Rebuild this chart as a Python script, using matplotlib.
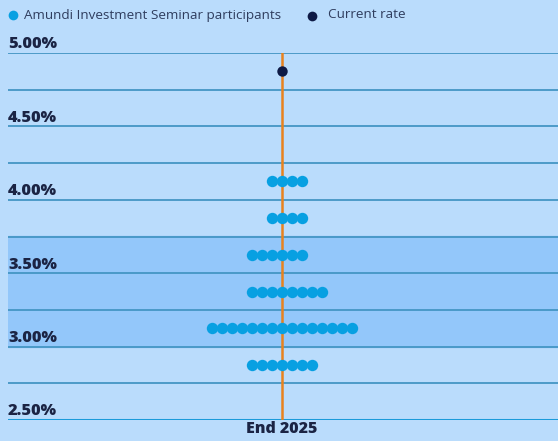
import matplotlib
matplotlib.use("Agg")
import matplotlib.pyplot as plt
import numpy as np

# ── data ──────────────────────────────────────────────────────────────────
category = "End 2025"
forecast_rates = [4.125, 3.875, 3.625, 3.375, 3.125, 2.875]   # % (bucket mid-points)
forecast_counts = [4, 4, 6, 8, 15, 7]                          # participants per bucket
current_rate = 4.875
band_low, band_high = 3.00, 3.75
y_ticks = [2.50, 3.00, 3.50, 4.00, 4.50, 5.00]
grid_levels = np.arange(2.50, 5.01, 0.25)

# left-most dot offset for each bucket row (dot-stack layout)
row_start = [-1, -1, -3, -3, -7, -3]

# ── style ─────────────────────────────────────────────────────────────────
BG = "#BADCFC"
BAND = "#93C7FA"
GRID = "#4496C4"
DOT = "#07A0E2"
NAVY = "#0E1A45"
ORANGE = "#E8821E"
TEXT = "#1B2444"
plt.rcParams["font.family"] = ["Open Sans", "DejaVu Sans"]

W, H = 558, 441
fig = plt.figure(figsize=(W / 100, H / 100), dpi=100)
fig.patch.set_facecolor(BG)

ax = fig.add_axes([8 / W, (H - 420) / H, 550 / W, 367 / H])
ax.set_facecolor(BG)
ax.set_xlim(-27.4, 27.6)
ax.set_ylim(2.50, 5.00)
for s in ax.spines.values():
    s.set_visible(False)

ax.axhspan(band_low, band_high, color=BAND, zorder=0)
for lv in grid_levels[1:]:
    ax.axhline(lv, color=GRID, lw=1.3, zorder=1)
ax.axhline(grid_levels[0], color="#1B9BDA", lw=2.2, zorder=1)

ax.axvline(0, color=ORANGE, lw=1.8, zorder=2)

for rate, n, start in zip(forecast_rates, forecast_counts, row_start):
    xs = start + np.arange(n)
    ax.plot(xs, [rate] * n, "o", ms=8.2, color=DOT, mec="none", zorder=3)

ax.plot([0], [current_rate], "o", ms=7.5, color=NAVY, mec="none", zorder=4)

ax.set_yticks([])
ax.set_xticks([0])
ax.set_xticklabels([category], fontsize=11.5, fontweight=800, color=TEXT)
ax.tick_params(axis="x", length=0, pad=1)

trans = ax.get_yaxis_transform()
for t in y_ticks:
    ax.text(0.0, t + 0.004, f"{t:.2f}%", transform=trans, ha="left", va="bottom",
            fontsize=11.8, fontweight=800, color=TEXT)

# legend
lg = fig.add_axes([0, 0, 1, 1], facecolor="none")
lg.set_xlim(0, W)
lg.set_ylim(H, 0)
lg.axis("off")
lg.plot([13], [15], "o", ms=7, color=DOT, mec="none")
lg.text(24, 15, "Amundi Investment Seminar participants", va="center", ha="left",
        fontsize=9.7, color="#2F3D5E")
lg.plot([312], [16], "o", ms=7, color=NAVY, mec="none")
lg.text(328, 15, "Current rate", va="center", ha="left", fontsize=9.7, color="#2F3D5E")

fig.savefig("out.png", dpi=100, facecolor=BG)
